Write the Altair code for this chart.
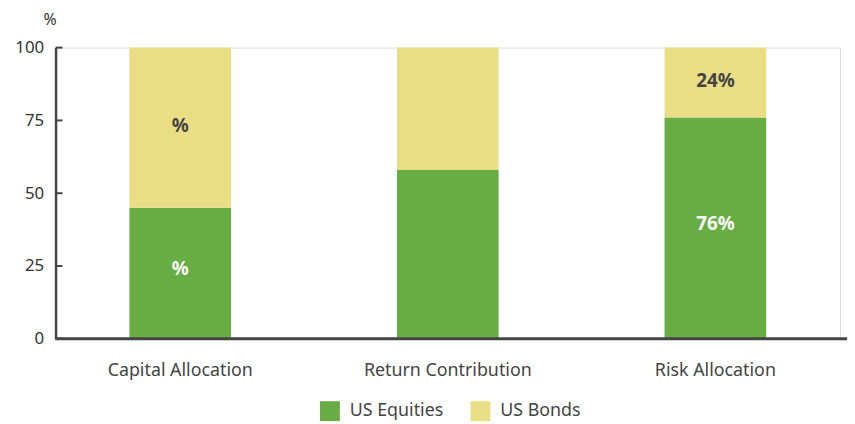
import altair as alt
import pandas as pd

categories = ["Capital Allocation", "Return Contribution", "Risk Allocation"]
series = ["US Equities", "US Bonds"]
equities = [45, 58, 76]
bonds = [55, 42, 24]
equity_labels = ["%", "", "76%"]
bond_labels = ["%", "", "24%"]
y_ticks = [0, 25, 50, 75, 100]
colors = ["#67AD43", "#EADE85"]

rows = []
for i, c in enumerate(categories):
    rows.append({"cat": c, "series": series[0], "value": equities[i], "order": 0,
                 "start": 0, "mid": equities[i] / 2, "label": equity_labels[i]})
    rows.append({"cat": c, "series": series[1], "value": bonds[i], "order": 1,
                 "start": equities[i], "mid": equities[i] + bonds[i] / 2, "label": bond_labels[i]})
df = pd.DataFrame(rows)
df["end"] = df["start"] + df["value"]
ticks_df = pd.DataFrame({"t": y_ticks})
base_df = pd.DataFrame({"t": [0]})

FONT = "Noto Sans"
AX = "#444444"

x_enc = alt.X("cat:N", sort=categories, title=None,
              scale=alt.Scale(paddingInner=0.62, paddingOuter=0.276),
              axis=alt.Axis(labelAngle=0, labelFontSize=18, labelColor="#444444",
                            labelFont=FONT, ticks=False, labelPadding=23,
                            domain=False))
y_scale = alt.Scale(domain=[0, 100])

bars = alt.Chart(df).mark_bar().encode(
    x=x_enc,
    y=alt.Y("start:Q", scale=y_scale,
            axis=alt.Axis(values=y_ticks, title="%", titleAngle=0, titleX=-6, titleY=-28,
                          titleAlign="center", titleBaseline="middle", titleFontSize=16,
                          titleFont=FONT, titleFontWeight="normal", titleColor="#333333",
                          labelFontSize=17, labelFont=FONT, labelColor="#333333",
                          ticks=False, labelPadding=12, grid=False,
                          domainColor=AX, domainWidth=2.5)),
    y2="end:Q",
    color=alt.Color("series:N", sort=series,
                    scale=alt.Scale(domain=series, range=colors),
                    legend=alt.Legend(title=None, orient="none", direction="horizontal",
                                      legendX=267, legendY=357, symbolType="square",
                                      symbolSize=400, symbolStrokeWidth=0,
                                      labelFontSize=18, labelFont=FONT, labelColor="#444444",
                                      columnPadding=27, labelOffset=10)),
)

base_line = alt.Chart(base_df).mark_rule(color=AX, strokeWidth=3).encode(
    y=alt.Y("t:Q", scale=y_scale),
    x=alt.value(0),
    x2=alt.value(799),
)

tick_marks = alt.Chart(ticks_df).mark_rule(color=AX, strokeWidth=2).encode(
    y=alt.Y("t:Q", scale=y_scale),
    x=alt.value(0),
    x2=alt.value(7),
)

eq_text = alt.Chart(df[df["series"] == series[0]]).mark_text(
    fontSize=19, fontWeight="bold", font=FONT, color="white", dy=-4
).encode(x=alt.X("cat:N", sort=categories), y=alt.Y("mid:Q", scale=y_scale), text="label:N")

bd_text = alt.Chart(df[df["series"] == series[1]]).mark_text(
    fontSize=19, fontWeight="bold", font=FONT, color="#444444", dy=-2
).encode(x=alt.X("cat:N", sort=categories), y=alt.Y("mid:Q", scale=y_scale), text="label:N")

chart = alt.layer(bars, base_line, tick_marks, eq_text, bd_text).properties(
    width=792, height=294,
    autosize=alt.AutoSizeParams(type="none"),
    padding={"left": 48, "top": 38, "right": 7, "bottom": 84},
).configure_view(stroke=None).configure(font=FONT)

chart.save("out.html", embed_options={"renderer": "svg", "actions": False})
